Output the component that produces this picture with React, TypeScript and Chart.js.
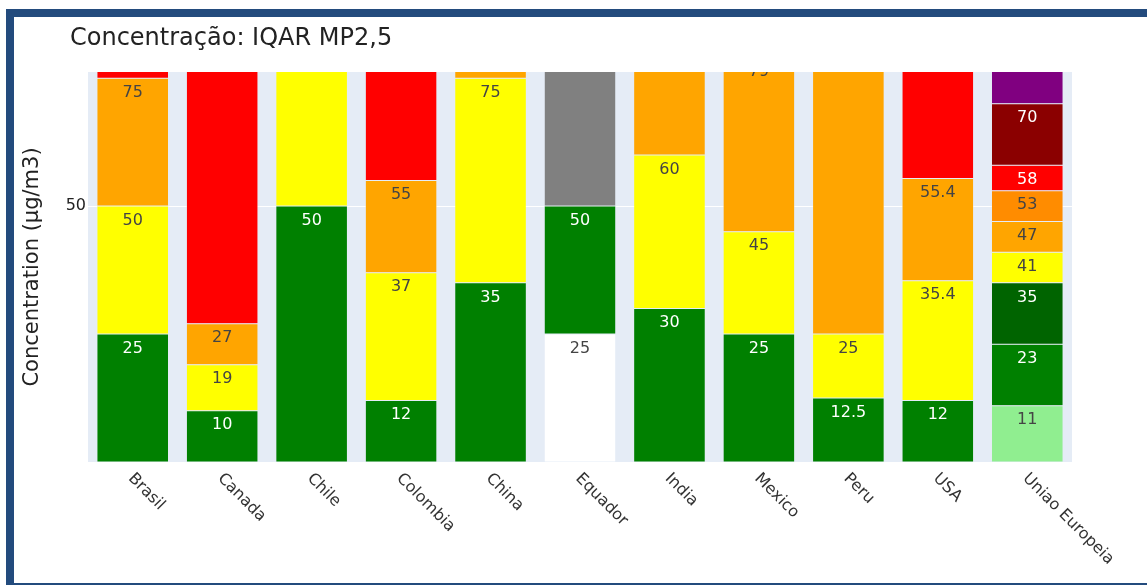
import React, { useEffect, useRef } from 'react';
import { Chart, registerables } from 'chart.js';

Chart.register(...registerables);

const categories = ['Brasil', 'Canada', 'Chile', 'Colombia', 'China', 'Equador', 'India', 'Mexico', 'Peru', 'USA', 'Uniao Europeia'];

// Upper limit of every band (µg/m3), per country
const brasilLimits = [25, 50, 75, 125];
const canadaLimits = [10, 19, 27, 100];
const chileLimits = [50, 80];
const colombiaLimits = [12, 37, 55, 150];
const chinaLimits = [35, 75, 115];
const equadorLimits = [25, 50, 150];
const indiaLimits = [30, 60, 90];
const mexicoLimits = [25, 45, 79, 147];
const peruLimits = [12.5, 25, 125];
const usaLimits = [12, 35.4, 55.4, 150.4];
const ueLimits = [11, 23, 35, 41, 47, 53, 58, 70, 100];

// Band colours, per country
const brasilColors = ['green', 'yellow', 'orange', 'red'];
const canadaColors = ['green', 'yellow', 'orange', 'red'];
const chileColors = ['green', 'yellow'];
const colombiaColors = ['green', 'yellow', 'orange', 'red'];
const chinaColors = ['green', 'yellow', 'orange'];
const equadorColors = ['white', 'green', 'gray'];
const indiaColors = ['green', 'yellow', 'orange'];
const mexicoColors = ['green', 'yellow', 'orange', 'red'];
const peruColors = ['green', 'yellow', 'orange'];
const usaColors = ['green', 'yellow', 'orange', 'red'];
const ueColors = ['lightgreen', 'green', 'darkgreen', 'yellow', 'orange', 'darkorange', 'red', 'darkred', 'purple'];

const yTicks = [50];
const yMin = 0;
const yMax = 76.2;

const allLimits = [brasilLimits, canadaLimits, chileLimits, colombiaLimits, chinaLimits, equadorLimits, indiaLimits, mexicoLimits, peruLimits, usaLimits, ueLimits];
const allColors = [brasilColors, canadaColors, chileColors, colombiaColors, chinaColors, equadorColors, indiaColors, mexicoColors, peruColors, usaColors, ueColors];

const RGB: Record<string, [number, number, number]> = {
  green: [0, 128, 0], yellow: [255, 255, 0], orange: [255, 165, 0], red: [255, 0, 0],
  white: [255, 255, 255], gray: [128, 128, 128], lightgreen: [144, 238, 144],
  darkgreen: [0, 100, 0], darkorange: [255, 140, 0], darkred: [139, 0, 0], purple: [128, 0, 128],
};
const textColorFor = (c: string) => {
  const [r, g, b] = RGB[c] || [255, 255, 255];
  const br = (r * 299 + g * 587 + b * 114) / 1000;
  return br >= 128 ? '#444' : '#fff';
};

const FONT = '"DejaVu Sans", Verdana, sans-serif';

export default function App() {
  const ref = useRef<HTMLCanvasElement>(null);
  useEffect(() => {
    if (!ref.current) return;
    const levels = Math.max(...allLimits.map((l) => l.length));
    const datasets = [] as any[];
    for (let i = 0; i < levels; i++) {
      datasets.push({
        label: 'band ' + (i + 1),
        data: allLimits.map((l) => (l[i] != null ? l[i] - (i > 0 ? l[i - 1] : 0) : null)),
        backgroundColor: allColors.map((c) => c[i] || 'transparent'),
        borderColor: '#E5ECF6',
        borderWidth: 0.5,
        borderSkipped: false,
        barPercentage: 0.8,
        categoryPercentage: 1.0,
      });
    }

    const frame = {
      id: 'frame',
      beforeDraw(chart: any) {
        const { ctx, width, height, chartArea } = chart;
        ctx.save();
        ctx.fillStyle = '#fff';
        ctx.fillRect(0, 0, width, height);
        ctx.fillStyle = '#E5ECF6';
        ctx.fillRect(chartArea.left, chartArea.top, chartArea.right - chartArea.left, chartArea.bottom - chartArea.top);
        ctx.restore();
      },
      afterDraw(chart: any) {
        const { ctx, chartArea, scales } = chart;
        ctx.save();
        // title
        ctx.fillStyle = '#222';
        ctx.font = '24px ' + FONT;
        ctx.textAlign = 'left';
        ctx.textBaseline = 'alphabetic';
        ctx.fillText('Concentração: IQAR MP2,5', 70, 45);
        // x labels rotated 45°
        ctx.font = '16px ' + FONT;
        ctx.fillStyle = '#333';
        categories.forEach((cat, i) => {
          const x = scales.x.getPixelForValue(i);
          ctx.save();
          ctx.translate(x - 5, chartArea.bottom + 17);
          ctx.rotate(Math.PI / 4);
          ctx.fillText(cat, 0, 0);
          ctx.restore();
        });
        // border
        ctx.strokeStyle = '#234b7d';
        ctx.lineWidth = 8;
        ctx.strokeRect(10, 13, 1141, 574);
        ctx.restore();
      },
      afterDatasetsDraw(chart: any) {
        const { ctx, chartArea } = chart;
        ctx.save();
        ctx.beginPath();
        ctx.rect(chartArea.left, chartArea.top, chartArea.right - chartArea.left, chartArea.bottom - chartArea.top);
        ctx.clip();
        ctx.font = '16px ' + FONT;
        ctx.textAlign = 'center';
        ctx.textBaseline = 'middle';
        chart.data.datasets.forEach((ds: any, di: number) => {
          const meta = chart.getDatasetMeta(di);
          meta.data.forEach((el: any, ci: number) => {
            const lim = allLimits[ci][di];
            if (lim == null) return;
            const cy = el.y + 14.5;
            if (cy < chartArea.top - 12) return;
            ctx.fillStyle = textColorFor(allColors[ci][di]);
            ctx.fillText(String(lim), el.x, cy);
          });
        });
        ctx.restore();
      },
    };

    const chart = new Chart(ref.current, {
      type: 'bar',
      data: { labels: categories, datasets },
      options: {
        animation: false,
        responsive: false,
        maintainAspectRatio: false,
        layout: { padding: { top: 72, bottom: 123, right: 75, left: 0 } },
        plugins: { legend: { display: false }, tooltip: { enabled: false }, title: { display: false } },
        scales: {
          x: {
            stacked: true,
            display: false,
            offset: true,
          },
          y: {
            stacked: true,
            min: yMin,
            max: yMax,
            afterBuildTicks: (scale: any) => {
              scale.ticks = yTicks.map((v) => ({ value: v }));
            },
            afterFit: (scale: any) => {
              scale.width = 88;
            },
            border: { display: false },
            grid: { color: '#ffffff', lineWidth: 1, drawTicks: false },
            ticks: { color: '#222', font: { family: FONT, size: 16 }, padding: 2 },
            title: {
              display: true,
              text: 'Concentration (µg/m3)',
              color: '#222',
              font: { family: FONT, size: 21 },
              padding: { top: 20, bottom: 0 },
            },
          },
        },
      } as any,
      plugins: [frame],
    });
    return () => chart.destroy();
  }, []);

  return (
    <div style={{ position: 'fixed', left: 0, top: 0, width: 1147, height: 585 }}>
      <canvas ref={ref} width={1147} height={585} style={{ width: 1147, height: 585, display: 'block' }} />
    </div>
  );
}
